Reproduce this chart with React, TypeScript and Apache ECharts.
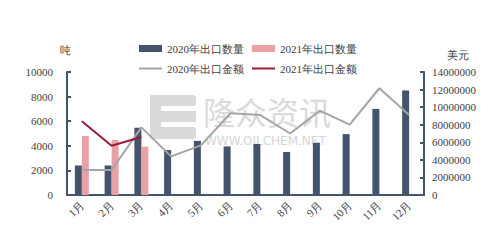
import React, { useEffect, useRef } from "react";
import * as echarts from "echarts";

const months = ["1月", "2月", "3月", "4月", "5月", "6月", "7月", "8月", "9月", "10月", "11月", "12月"];
const qty2020 = [2400, 2400, 5470, 3650, 4400, 3950, 4150, 3500, 4250, 4950, 7000, 8500];
const qty2021: (number | null)[] = [4800, 4470, 3930, null, null, null, null, null, null, null, null, null];
const amt2020 = [2850000, 2850000, 7700000, 4400000, 5650000, 9300000, 9100000, 7000000, 9600000, 8000000, 12150000, 9100000];
const amt2021: (number | null)[] = [8400000, 5600000, 6600000, null, null, null, null, null, null, null, null, null];
const legendNames = ["2020年出口数量", "2021年出口数量", "2020年出口金额", "2021年出口金额"];

const FONT = "serif";
const AXIS = "#44546A";
const LINE_ICON = "path://M0,0 L46,0 L46,4 L0,4 Z";

export default function App() {
  const ref = useRef<HTMLDivElement>(null);
  useEffect(() => {
    const chart = echarts.init(ref.current!, null, { renderer: "svg" });
    const txt = { fontSize: 11, color: "#404040", fontFamily: FONT };
    chart.setOption({
      animation: false,
      textStyle: { fontFamily: FONT },
      graphic: [
        {
          type: "group",
          z: 0,
          silent: true,
          children: [
            { type: "rect", shape: { x: 150, y: 95, width: 46, height: 11, r: 3 }, style: { fill: "#d9d9d9" } },
            { type: "rect", shape: { x: 150, y: 111, width: 46, height: 11 }, style: { fill: "#d9d9d9" } },
            { type: "rect", shape: { x: 150, y: 127, width: 46, height: 12, r: 3 }, style: { fill: "#d9d9d9" } },
            { type: "rect", shape: { x: 150, y: 95, width: 11, height: 44 }, style: { fill: "#d9d9d9" } },
            {
              type: "text",
              x: 203,
              y: 95,
              style: { text: "隆众资讯", fontSize: 32, lineHeight: 32, fill: "#dadada", fontFamily: "Noto Sans CJK SC" },
            },
            {
              type: "text",
              x: 205,
              y: 135,
              style: { text: "WWW.OILCHEM.NET", fontSize: 12, lineHeight: 12, fill: "#d6d6d6", fontFamily: "DejaVu Sans" },
            },
          ],
        },
      ],
      legend: [
        {
          data: [{ name: legendNames[0] }, { name: legendNames[1] }],
          left: 134,
          top: 38,
          itemWidth: 23,
          itemHeight: 7,
          itemGap: 8,
          icon: "rect",
          textStyle: txt,
        },
        {
          data: [
            { name: legendNames[2], icon: LINE_ICON },
            { name: legendNames[3], icon: LINE_ICON },
          ],
          left: 134,
          top: 58,
          itemWidth: 23,
          itemHeight: 7,
          itemGap: 8,
          textStyle: txt,
        },
      ],
      grid: { left: 67, right: 67, top: 72, bottom: 51 },
      xAxis: {
        type: "category",
        data: months,
        axisLine: { lineStyle: { color: AXIS, width: 2 } },
        axisTick: { inside: true, length: 4, lineStyle: { color: AXIS, width: 2 } },
        axisLabel: { ...txt, rotate: 45, margin: 8 },
      },
      yAxis: [
        {
          type: "value",
          name: "吨",
          nameLocation: "end",
          nameGap: 17,
          nameTextStyle: { ...txt, align: "center", padding: [0, 0, 0, -4] },
          min: 0,
          max: 10000,
          interval: 2000,
          axisLine: { show: true, lineStyle: { color: AXIS, width: 2 } },
          axisTick: { show: true, inside: true, length: 4, lineStyle: { color: AXIS, width: 2 } },
          axisLabel: { ...txt, margin: 14, formatter: (v: number) => String(v) },
          splitLine: { show: false },
        },
        {
          type: "value",
          name: "美元",
          nameLocation: "end",
          nameGap: 12,
          nameTextStyle: { ...txt, align: "center", padding: [0, 0, 0, 68] },
          min: 0,
          max: 14000000,
          interval: 2000000,
          axisLine: { show: true, lineStyle: { color: AXIS, width: 2 } },
          axisTick: { show: true, inside: true, length: 4, lineStyle: { color: AXIS, width: 2 } },
          axisLabel: { ...txt, margin: 8, formatter: (v: number) => String(v) },
          splitLine: { show: false },
        },
      ],
      series: [
        {
          name: legendNames[0],
          type: "bar",
          data: qty2020,
          barWidth: 7,
          barGap: "0%",
          itemStyle: { color: "#44546A" },
          z: 2,
        },
        {
          name: legendNames[1],
          type: "bar",
          data: qty2021,
          barWidth: 7,
          barGap: "0%",
          itemStyle: { color: "#E8A2A6" },
          z: 2,
        },
        {
          name: legendNames[2],
          type: "line",
          yAxisIndex: 1,
          data: amt2020,
          symbol: "none",
          lineStyle: { color: "#A5A5A5", width: 2 },
          itemStyle: { color: "#A5A5A5" },
          z: 3,
        },
        {
          name: legendNames[3],
          type: "line",
          yAxisIndex: 1,
          data: amt2021,
          symbol: "none",
          lineStyle: { color: "#9B1B3A", width: 2 },
          itemStyle: { color: "#9B1B3A" },
          z: 4,
        },
      ],
    });
    return () => chart.dispose();
  }, []);
  return <div ref={ref} style={{ width: 491, height: 246, position: "absolute", left: 0, top: 0 }} />;
}
